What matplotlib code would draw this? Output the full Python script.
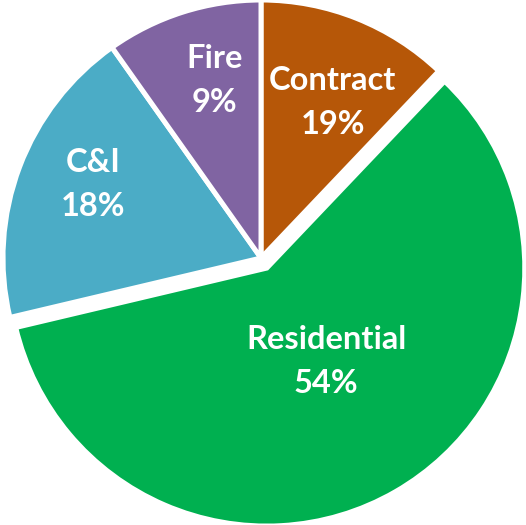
import matplotlib
matplotlib.use("Agg")
import numpy as np
import matplotlib.pyplot as plt

categories = ["Contract", "Residential", "C&I", "Fire"]
shares = [12.1, 59.2, 18.9, 9.8]
pct_labels = ["19%", "54%", "18%", "9%"]

colors = ["#B65708", "#00B050", "#4BACC6", "#8064A2"]
explode = [0, 0.045, 0, 0]
label_dist = [0.665, 0.43, 0.71, 0.71]
label_shift = [-3, 2.5, -3, -3]  # small angular nudges, degrees

W, H = 526, 525
fig = plt.figure(figsize=(W / 100, H / 100), dpi=100)
ax = fig.add_axes([0, 0, 1, 1])

wedges, _ = ax.pie(shares, colors=colors, explode=explode, startangle=90,
                   counterclock=False, radius=1.0,
                   wedgeprops=dict(edgecolor="white", linewidth=3.6))

# pie() sets its own limits, so fix them afterwards
scale = 258.0  # px per data unit
cx, cy = 261, 258
ax.set_xlim(-cx / scale, (W - cx) / scale)
ax.set_ylim(-(H - cy) / scale, cy / scale)
ax.set_aspect("equal")
ax.axis("off")

for w, name, pct, d, s in zip(wedges, categories, pct_labels, label_dist, label_shift):
    mid = np.deg2rad((w.theta1 + w.theta2) / 2 + s)
    x = w.center[0] + d * w.r * np.cos(mid)
    y = w.center[1] + d * w.r * np.sin(mid)
    ax.text(x, y, name + "\n" + pct, ha="center", va="center", color="white",
            fontsize=23.5, fontweight="bold", family="Lato", linespacing=1.62)

fig.savefig("out.png", dpi=100)
